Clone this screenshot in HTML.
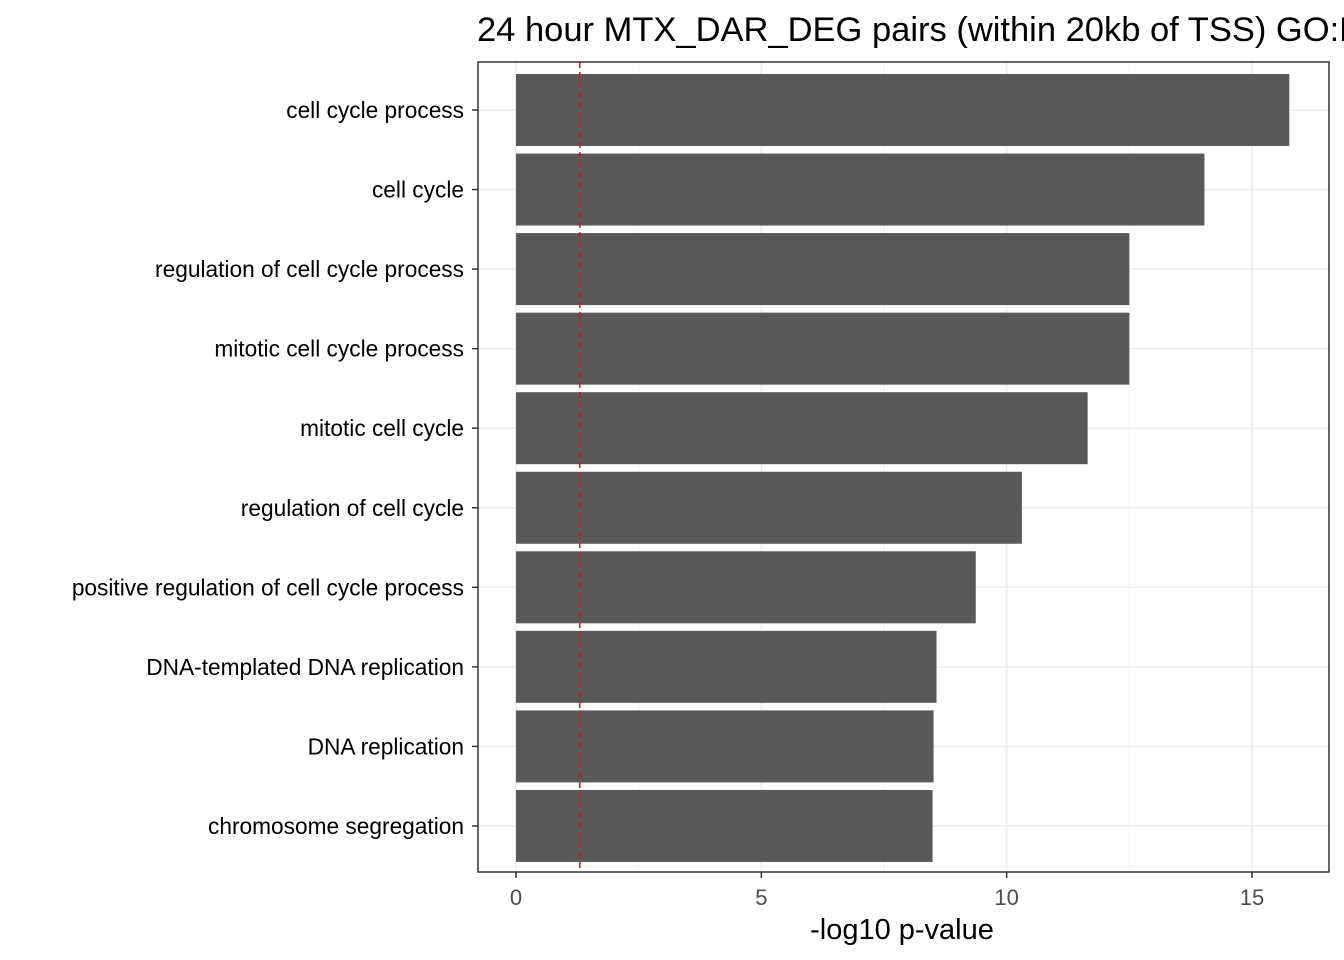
<!DOCTYPE html>
<html><head><meta charset="utf-8"><style>
html,body{margin:0;padding:0;width:1344px;height:960px;overflow:hidden;background:#fff;font-family:"Liberation Sans",Arial,sans-serif;}
</style></head><body>
<svg id="chart" width="1344" height="960" xmlns="http://www.w3.org/2000/svg">
<text x="477" y="41" font-size="34.5" fill="#000">24 hour MTX_DAR_DEG pairs (within 20kb of TSS) GO:BP</text>
<g id="grid"></g>
<g id="bars"></g>
<g id="axes"></g>
<text x="902" y="939" font-size="29" text-anchor="middle" fill="#000">-log10 p-value</text>
</svg>
<script>
const categories = ["cell cycle process","cell cycle","regulation of cell cycle process","mitotic cell cycle process","mitotic cell cycle","regulation of cell cycle","positive regulation of cell cycle process","DNA-templated DNA replication","DNA replication","chromosome segregation"];
const values = [15.76,14.03,12.50,12.50,11.65,10.31,9.37,8.57,8.51,8.49];
const xTicks = [0,5,10,15];
const xMinor = [2.5,7.5,12.5];
const threshold = 1.301;

const NS="http://www.w3.org/2000/svg";
const L=478,R=1329,T=62,B=872;
const x0=516, pxPerUnit=(1252-516)/15;
const xs=v=>x0+v*pxPerUnit;
const step=79.55;
const yc=i=>110+step*i;
const bh=72;
function mk(tag,attrs,parent){const e=document.createElementNS(NS,tag);for(const k in attrs)e.setAttribute(k,attrs[k]);parent.appendChild(e);return e;}
const grid=document.getElementById('grid'),bars=document.getElementById('bars'),axes=document.getElementById('axes');
xMinor.forEach(v=>{const l=mk('line',{x1:xs(v),x2:xs(v),y1:T,y2:B,stroke:'#f2f2f2','stroke-width':1},grid);

});
xTicks.forEach(v=>{const l=mk('line',{x1:xs(v),x2:xs(v),y1:T,y2:B,stroke:'#ebebeb','stroke-width':1.5},grid);

});
categories.forEach((c,i)=>{const l=mk('line',{x1:L,x2:R,y1:yc(i),y2:yc(i),stroke:'#ebebeb','stroke-width':1.5},grid);

});
categories.forEach((c,i)=>{
 const r=mk('rect',{x:xs(0),y:yc(i)-bh/2,width:xs(values[i])-xs(0),height:bh,fill:'#595959'},bars);
 
 
 const t=mk('text',{x:464,y:yc(i)+8,'font-size':22.7,'text-anchor':'end',fill:'#000'},axes);
 t.textContent=c;
 
 
 const tk=mk('line',{x1:472,x2:478,y1:yc(i),y2:yc(i),stroke:'#333','stroke-width':1.5},axes);
 
 
});
const th=mk('line',{x1:xs(threshold),x2:xs(threshold),y1:T,y2:B,stroke:'#e0101e','stroke-width':1.5,'stroke-dasharray':'6,4'},bars);


xTicks.forEach(v=>{
 const tk=mk('line',{x1:xs(v),x2:xs(v),y1:B,y2:B+6,stroke:'#333','stroke-width':1.5},axes);
 
 
 const t=mk('text',{x:xs(v),y:B+33,'font-size':22,'text-anchor':'middle',fill:'#4d4d4d'},axes);
 t.textContent=v;
 
 
});
const fr=mk('rect',{x:L,y:T,width:R-L,height:B-T,fill:'none',stroke:'#333','stroke-width':1.5},axes);


</script>
</body></html>
